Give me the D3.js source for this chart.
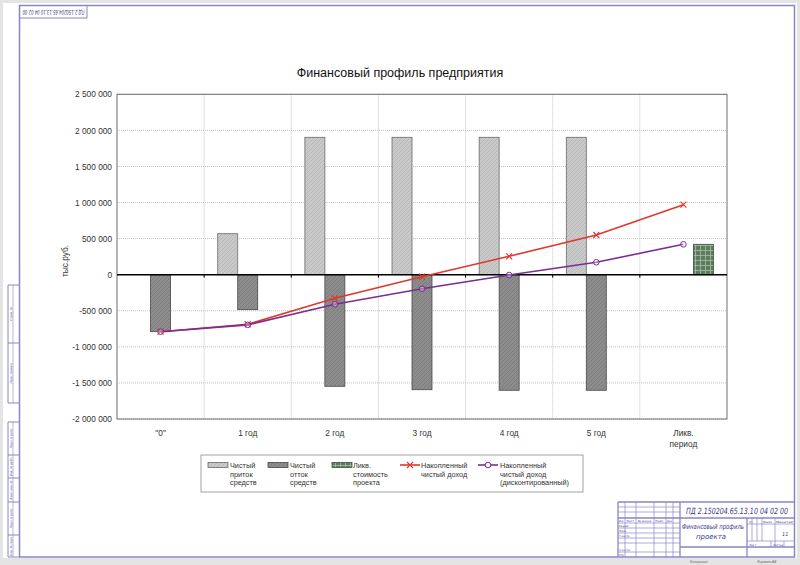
<!DOCTYPE html>
<html><head><meta charset="utf-8">
<script src="https://cdn.jsdelivr.net/npm/d3@7"></script>
<style>body{margin:0;background:#fff}svg{display:block;font-family:"Liberation Sans",Arial,sans-serif}</style>
</head><body><svg id="c" width="800" height="565"></svg>
<script>
const categories = ['"0"','1 год','2 год','3 год','4 год','5 год','Ликв. период'];
const inflow      = [null, 568000, 1904000, 1904000, 1904000, 1904000, null];
const outflow     = [-790000, -485000, -1547000, -1594000, -1602000, -1602000, null];
const liquidation = [null, null, null, null, null, null, 421000];
const cumulative  = [-790000, -687000, -327000, -28000, 255000, 550000, 970000];
const discounted  = [-790000, -695000, -410000, -194000, -4000, 172000, 421000];
const yTicks = [-2000000,-1500000,-1000000,-500000,0,500000,1000000,1500000,2000000,2500000];

const svg = d3.select('#c');
const frameCol = '#8a86c4';

// page background & frame
svg.append('rect').attr('width',800).attr('height',565).attr('fill','#e4e4e4');
svg.append('rect').attr('x',3).attr('y',3).attr('width',794).attr('height',555).attr('fill','#fff');
svg.append('rect').attr('x',19.5).attr('y',5.5).attr('width',775).attr('height',551.5)
  .attr('fill','none').attr('stroke',frameCol).attr('stroke-width',1.5);

// defs: patterns
const defs = svg.append('defs');
function hatch(id, bg, line){
  const p = defs.append('pattern').attr('id',id).attr('patternUnits','userSpaceOnUse').attr('width',4).attr('height',4);
  p.append('rect').attr('width',4).attr('height',4).attr('fill',bg);
  p.append('path').attr('d','M-1,1 l2,-2 M0,4 l4,-4 M3,5 l2,-2').attr('stroke',line).attr('stroke-width',0.8);
}
hatch('pin','#c9c9c9','#b5b5b5');
hatch('pout','#8c8c8c','#7a7a7a');
const pg = defs.append('pattern').attr('id','pliq').attr('patternUnits','userSpaceOnUse').attr('width',5).attr('height',5);
pg.append('rect').attr('width',5).attr('height',5).attr('fill','#5c7c5c');
pg.append('path').attr('d','M0,0.5 H5 M0.5,0 V5').attr('stroke','#a8bca8').attr('stroke-width',0.8);

// scales
const L=117, R=727, T=94.3, B=419;
const x = d3.scaleBand().domain(categories).range([L,R]).paddingInner(0).paddingOuter(0);
const xs = d3.scaleBand().domain(['in','out','liq']).range([0,x.bandwidth()]).paddingInner(0).paddingOuter(0.68);
const y = d3.scaleLinear().domain([-2000000,2500000]).range([B,T]);
const loc = d3.formatLocale({decimal:',',thousands:'\u00a0',grouping:[3],currency:['',''],minus:'-'});
const fmt = loc.format(',d');

const g = svg.append('g');
// gridlines
g.append('g').selectAll('line').data(yTicks).join('line')
  .attr('x1',L).attr('x2',R).attr('y1',d=>y(d)).attr('y2',d=>y(d))
  .attr('stroke','#b4b4b4').attr('stroke-width',0.8).attr('stroke-dasharray','1,1');
g.append('g').selectAll('line').data(categories.slice(1)).join('line')
  .attr('x1',d=>x(d)).attr('x2',d=>x(d)).attr('y1',T).attr('y2',B)
  .attr('stroke','#b4b4b4').attr('stroke-width',0.8).attr('stroke-dasharray','1,1');
g.append('rect').attr('x',L).attr('y',T).attr('width',R-L).attr('height',B-T)
  .attr('fill','none').attr('stroke','#6e6e6e').attr('stroke-width',1);

// y axis
const ya = svg.append('g').attr('transform',`translate(${L},0)`)
  .call(d3.axisLeft(y).tickValues(yTicks).tickSize(0).tickPadding(5).tickFormat(fmt));
ya.select('.domain').remove();
ya.selectAll('text').attr('font-size',8.3).attr('fill','#333').attr('font-family','"Liberation Sans",Arial,sans-serif');

// x axis
const xa = svg.append('g').attr('transform',`translate(0,${B})`)
  .call(d3.axisBottom(x).tickSize(0).tickPadding(11));
xa.select('.domain').remove();
xa.selectAll('text').attr('font-size',8.3).attr('fill','#333').attr('font-family','"Liberation Sans",Arial,sans-serif')
  .each(function(d){
    const parts = d.split(' ');
    if (d.indexOf('Ликв')===0){
      const t = d3.select(this); t.text(null);
      t.append('tspan').attr('x',0).attr('dy','0.71em').text(parts[0]);
      t.append('tspan').attr('x',0).attr('dy','1.3em').text(parts[1]);
    }
  });

// bars
function bars(data, key, fill, stroke){
  g.append('g').selectAll('rect').data(categories.map((c,i)=>({c,v:data[i]})).filter(d=>d.v!=null)).join('rect')
    .attr('x',d=>x(d.c)+xs(key)).attr('width',xs.bandwidth())
    .attr('y',d=>y(Math.max(0,d.v))).attr('height',d=>Math.abs(y(d.v)-y(0)))
    .attr('fill',fill).attr('stroke',stroke).attr('stroke-width',0.8);
}
bars(inflow,'in','url(#pin)','#6a6a6a');
bars(outflow,'out','url(#pout)','#484848');
bars(liquidation,'liq','url(#pliq)','#3d523d');

// zero line with ticks
g.append('line').attr('x1',L).attr('x2',R).attr('y1',y(0)).attr('y2',y(0)).attr('stroke','#000').attr('stroke-width',1.6);
g.append('g').selectAll('line').data(categories.slice(1)).join('line')
  .attr('x1',d=>x(d)).attr('x2',d=>x(d)).attr('y1',y(0)).attr('y2',y(0)+3).attr('stroke','#000').attr('stroke-width',1);

// lines
const cx = c => x(c)+x.bandwidth()/2;
const line = d3.line().x(d=>cx(d.c)).y(d=>y(d.v));
const redC='#e2372a', purC='#7b2d91';
const cumD = categories.map((c,i)=>({c,v:cumulative[i]}));
const disD = categories.map((c,i)=>({c,v:discounted[i]}));
g.append('path').datum(cumD).attr('d',line).attr('fill','none').attr('stroke',redC).attr('stroke-width',1.6);
g.append('g').selectAll('path').data(cumD).join('path')
  .attr('d',d=>{const X=cx(d.c),Y=y(d.v);return `M${X-3},${Y-3}L${X+3},${Y+3}M${X-3},${Y+3}L${X+3},${Y-3}`;})
  .attr('stroke',redC).attr('stroke-width',1.1);
g.append('path').datum(disD).attr('d',line).attr('fill','none').attr('stroke',purC).attr('stroke-width',1.6);
g.append('g').selectAll('circle').data(disD).join('circle')
  .attr('cx',d=>cx(d.c)).attr('cy',d=>y(d.v)).attr('r',2.8)
  .attr('fill','#fff').attr('fill-opacity',0.3).attr('stroke',purC).attr('stroke-width',1);

// title & y label
svg.append('text').attr('x',400).attr('y',77).attr('text-anchor','middle').attr('font-size',12.5).attr('fill','#111')
  .text('Финансовый профиль предприятия');
svg.append('text').attr('transform','translate(68,261) rotate(-90)').attr('text-anchor','middle').attr('font-size',8.3).attr('fill','#333')
  .text('тыс.руб.');

// legend
const lg = svg.append('g');
lg.append('rect').attr('x',201).attr('y',455).attr('width',382).attr('height',37).attr('fill','#fff').attr('stroke','#8a8a8a').attr('stroke-width',0.8);
const legItems = [
  {x:208, type:'bar', fill:'url(#pin)', stroke:'#6a6a6a', tx:230, lines:['Чистый','приток','средств']},
  {x:268, type:'bar', fill:'url(#pout)', stroke:'#484848', tx:290, lines:['Чистый','отток','средств']},
  {x:332, type:'bar', fill:'url(#pliq)', stroke:'#3d523d', tx:353, lines:['Ликв.','стоимость','проекта']},
  {x:400, type:'x', col:redC, tx:421, lines:['Накопленный','чистый доход']},
  {x:478, type:'o', col:purC, tx:500, lines:['Накопленный','чистый доход','(дисконтированный)']}
];
legItems.forEach(it=>{
  const yy=465;
  if(it.type==='bar') lg.append('rect').attr('x',it.x).attr('y',yy-2.5).attr('width',20).attr('height',5).attr('fill',it.fill).attr('stroke',it.stroke).attr('stroke-width',0.8);
  else {
    lg.append('line').attr('x1',it.x).attr('x2',it.x+20).attr('y1',yy).attr('y2',yy).attr('stroke',it.col).attr('stroke-width',1.6);
    const X=it.x+10;
    if(it.type==='x') lg.append('path').attr('d',`M${X-3},${yy-3}L${X+3},${yy+3}M${X-3},${yy+3}L${X+3},${yy-3}`).attr('stroke',it.col).attr('stroke-width',1.1);
    else lg.append('circle').attr('cx',X).attr('cy',yy).attr('r',2.8).attr('fill','#fff').attr('stroke',it.col).attr('stroke-width',1);
  }
  const t = lg.append('text').attr('x',it.tx).attr('y',yy+2.8).attr('font-size',7.3).attr('fill','#333');
  it.lines.forEach((s,i)=>t.append('tspan').attr('x',it.tx).attr('dy',i?8.8:0).text(s));
});

// ===== drawing stamp (title block) =====
const st = svg.append('g').attr('stroke',frameCol).attr('fill','none');
function ln(x1,y1,x2,y2,w){st.append('line').attr('x1',x1).attr('y1',y1).attr('x2',x2).attr('y2',y2).attr('stroke-width',w||0.7);}
ln(618,502,795,502,1.3); ln(618,502,618,557,1.3);
ln(680,502,680,557,1.3); ln(618,518,795,518,1.3);
ln(747,518,747,557,1.3); ln(680,547,795,547,1.3);
[507,512,523,528,533,538,543,552].forEach(v=>ln(618,v,680,v));
[625,636,654,666,673].forEach(v=>ln(v,502,v,557));
ln(747,524,795,524); ln(747,541,795,541);
[752,757,762].forEach(v=>ln(v,518,v,541));
ln(775,518,775,547); ln(771,541,771,547); ln(784,541,784,547);
const stt = svg.append('g').attr('fill','#3b3a8c').attr('font-family','"DejaVu Sans",sans-serif').attr('font-style','italic');
stt.append('text').attr('transform','translate(686,514) scale(1,1.35)').attr('font-size',6.3).attr('textLength',102).attr('lengthAdjust','spacingAndGlyphs').text('ПД 2.150204.65.13.10 04 02 00');
stt.append('text').attr('transform','translate(682,529) scale(1,1.25)').attr('font-size',5.6).attr('textLength',62).attr('lengthAdjust','spacingAndGlyphs').text('Финансовый профиль');
stt.append('text').attr('transform','translate(696,539) scale(1,1.25)').attr('font-size',5.6).attr('textLength',30).attr('lengthAdjust','spacingAndGlyphs').text('проекта');
stt.append('text').attr('x',782).attr('y',536).attr('font-size',5).text('11');
[['Лит.',749,4],['Масса',763,9],['Масштаб',776,17]].forEach(d=>stt.append('text').attr('x',d[1]).attr('y',522.5).attr('font-size',2.6).attr('textLength',d[2]).attr('lengthAdjust','spacingAndGlyphs').text(d[0]));
[['Лист',749,7],['Листов',773,10]].forEach(d=>stt.append('text').attr('x',d[1]).attr('y',545.6).attr('font-size',2.6).attr('textLength',d[2]).attr('lengthAdjust','spacingAndGlyphs').text(d[0]));
[['Изм.',619,5],['Лист',626,8],['№ докум.',638,14],['Подп.',655,9],['Дата',667,5]].forEach(d=>stt.append('text').attr('x',d[1]).attr('y',522).attr('font-size',2.6).attr('textLength',d[2]).attr('lengthAdjust','spacingAndGlyphs').text(d[0]));
[['Разраб.',527],['Пров.',532],['Т.контр.',537],['Н.контр.',551],['Утв.',556]].forEach(d=>stt.append('text').attr('x',619).attr('y',d[1]).attr('font-size',2.6).text(d[0]));
svg.append('text').attr('x',690).attr('y',563).attr('font-size',3.5).attr('fill','#666').attr('font-style','italic').text('Копировал');
svg.append('text').attr('x',757).attr('y',563).attr('font-size',3.5).attr('fill','#666').attr('font-style','italic').text('Формат  А4');

// left margin stamps
ln(8,285,19,285,1); ln(8,285,8,403,1); ln(8,403,19,403,1); ln(8,343,19,343,1); ln(13,285,13,403,0.6);
ln(8,422,19,422,1); ln(8,422,8,557,1); ln(8,557,19,557,1); ln(13,422,13,557,0.6);
[455,478,502,535].forEach(v=>ln(8,v,19,v,1));
const ml=[['Справ. №',285,343],['Перв. примен.',343,403],['Подп. и дата',422,455],['Инв. № дубл.',455,478],['Взам. инв. №',478,502],['Подп. и дата',502,535],['Инв. № подл.',535,557]];
ml.forEach(d=>stt.append('text').attr('transform',`translate(11.8,${(d[1]+d[2])/2}) rotate(-90)`).attr('text-anchor','middle').attr('font-size',2.8).text(d[0]));

// top-left rotated box
ln(20,18,87,18,1); ln(87,5,87,18,1);
stt.append('text').attr('transform','translate(53.5,11.5) rotate(180) scale(1,1.6)').attr('text-anchor','middle').attr('dominant-baseline','middle').attr('font-size',3.9).attr('textLength',62).attr('lengthAdjust','spacingAndGlyphs').text('ПД 2.150204.65.13.10 04 02 00');
</script></body></html>
